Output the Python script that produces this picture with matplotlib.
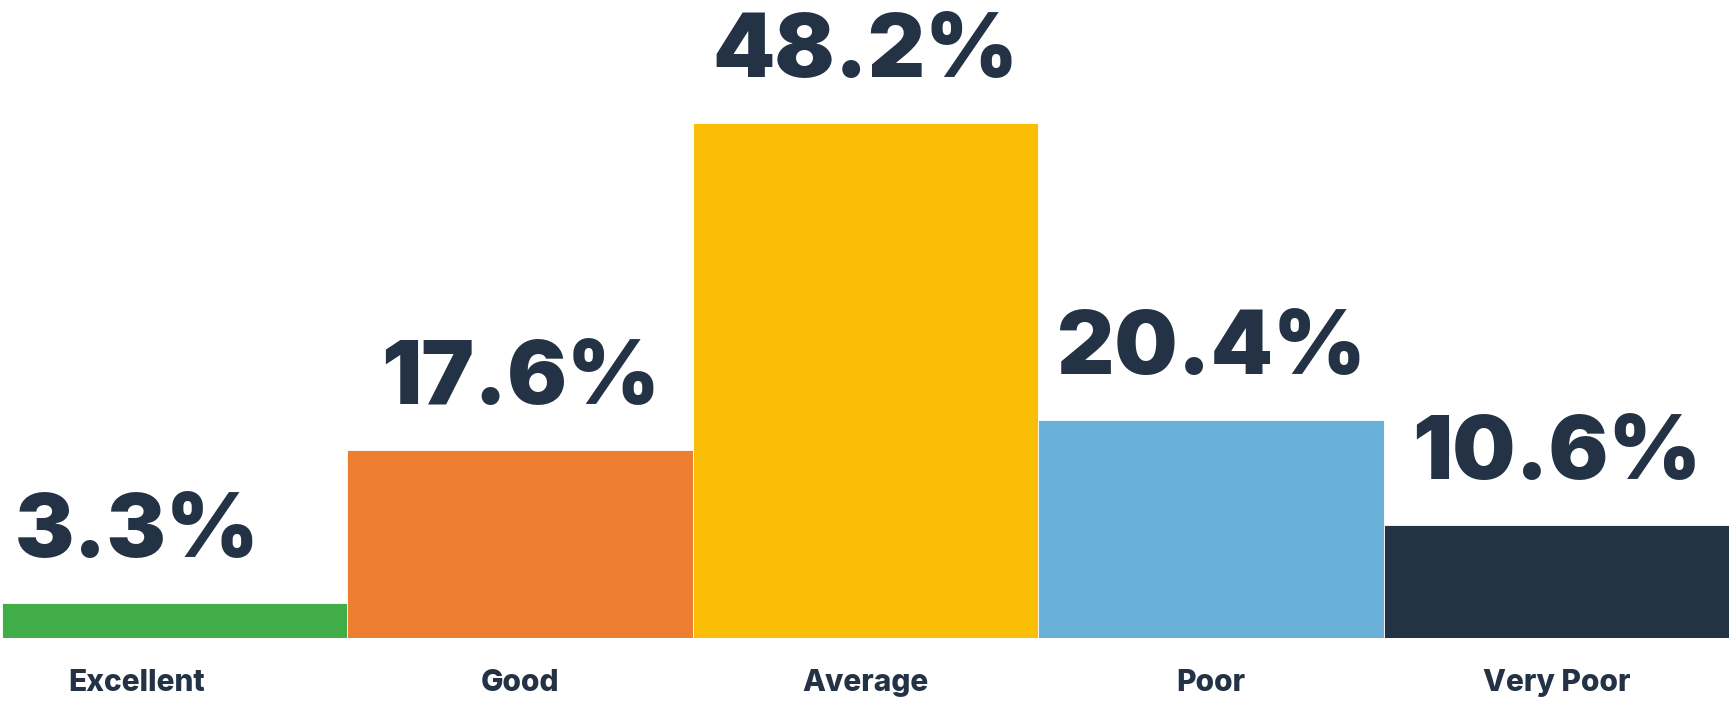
import matplotlib
matplotlib.use("Agg")
import matplotlib.pyplot as plt
import numpy as np

# Survey rating distribution
categories = ["Excellent", "Good", "Average", "Poor", "Very Poor"]
shares = [3.3, 17.6, 48.2, 20.4, 10.6]
value_labels = ["3.3%", "17.6%", "48.2%", "20.4%", "10.6%"]

colors = ["#41AD49", "#EC7D31", "#F9BE05", "#6AB1DA", "#233345"]
text_color = "#233345"

W, H = 1731, 706
fig = plt.figure(figsize=(W / 100, H / 100), dpi=100)
ax = fig.add_axes([2 / W, (H - 638) / H, (1729 - 2) / W, 638 / H])

x = np.arange(len(categories))
ax.bar(x, shares, width=1.0, color=colors, edgecolor="white", linewidth=0.6)
ax.set_xlim(-0.5, len(categories) - 0.5)
ax.set_ylim(0, 59.7)
ax.axis("off")

# the first column's text sits a little left of its bar centre
text_x = x.astype(float)
text_x[0] -= 0.11

for tx, v, lab, cat in zip(text_x, shares, value_labels, categories):
    ax.annotate(lab, xy=(tx, v), xytext=(0, 46), textcoords="offset pixels",
                ha="center", va="baseline", fontsize=64, fontfamily="Inter",
                fontweight="black", color=text_color, annotation_clip=False)
    ax.annotate(cat, xy=(tx, 0), xytext=(0, -53), textcoords="offset pixels",
                ha="center", va="baseline", fontsize=21.5, fontfamily="Inter",
                fontweight=800, color=text_color, annotation_clip=False)

fig.savefig("out.png", dpi=100)
